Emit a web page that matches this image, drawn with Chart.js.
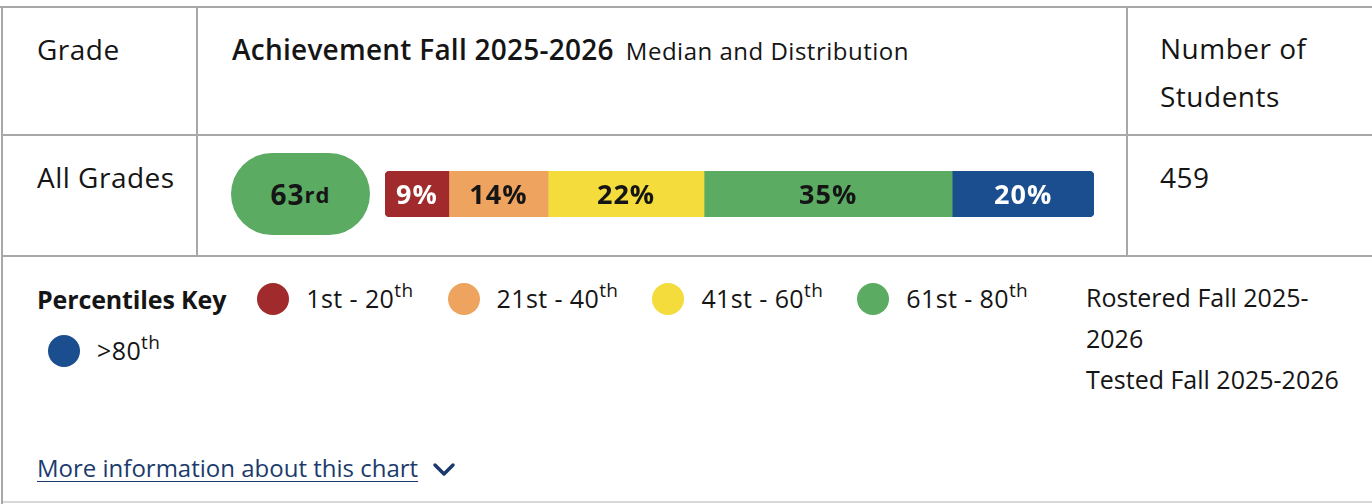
<!DOCTYPE html>
<html>
<head>
<meta charset="utf-8">
<script src="https://cdn.jsdelivr.net/npm/chart.js@4"></script>
<style>
  html, body { margin: 0; padding: 0; background: #fff; }
  body { width: 1372px; height: 504px; position: relative; overflow: hidden;
         font-family: "Open Sans", "Noto Sans", sans-serif; color: #151515; }
  .hl { position: absolute; height: 0; border-top: 2px solid #a8a8a8; }
  .vl { position: absolute; width: 0; border-left: 2px solid #a8a8a8; }
  .t  { position: absolute; white-space: nowrap; }
  .head { font-size: 28px; line-height: 28px; letter-spacing: 0.5px; }
  .sub { font-size: 24px; font-weight: 400; margin-left: 12px; letter-spacing: 0.5px; }
  #pill { position: absolute; left: 231px; top: 153px; width: 139px; height: 82px;
          border-radius: 41px; display: flex; align-items: center; justify-content: center;
          font-weight: 700; font-size: 28px; letter-spacing: 1px; color: #151515; }
  #pill small { font-size: 22px; font-weight: 700; }
  #barWrap { position: absolute; left: 385px; top: 171px; width: 709px; height: 46px; }
  #legend { position: absolute; left: 37px; top: 279px; width: 1040px;
            display: flex; flex-wrap: wrap; column-gap: 20px; row-gap: 12px; }
  #legend .key { font-weight: 700; font-size: 25px; line-height: 40px; letter-spacing: -0.13px; }
  #legend .item { display: flex; align-items: center; height: 40px; padding-left: 11px; padding-right: 3px;
                  font-size: 25px; line-height: 40px; letter-spacing: 0.4px; }
  #legend .dot { width: 32px; height: 32px; border-radius: 50%; margin-right: 17px; }
  #legend sup { font-size: 19px; vertical-align: 0; position: relative; top: -11px; }
  #roster { position: absolute; left: 1086px; top: 277px; width: 265px; font-size: 25px; line-height: 41px; }
  #more { position: absolute; left: 37px; top: 456px; font-size: 24px; line-height: 24px;
          color: #1c3b6c; text-decoration: underline; text-underline-offset: 4px; text-decoration-thickness: 1px; }
  #chev { position: absolute; left: 432px; top: 461px; }
</style>
</head>
<body>
<div class="hl" style="left:0;top:6px;width:1372px"></div>
<div class="hl" style="left:2px;top:134px;width:1370px"></div>
<div class="hl" style="left:2px;top:255px;width:1370px"></div>
<div class="hl" style="left:2px;top:501px;width:1370px;border-top-color:#d8d8d8"></div>
<div class="vl" style="left:1px;top:6px;height:498px"></div>
<div class="vl" style="left:196px;top:6px;height:250px"></div>
<div class="vl" style="left:1126px;top:6px;height:250px"></div>

<div class="t head" style="left:37px;top:35px">Grade</div>
<div class="t head" style="left:232px;top:35px;font-weight:600;letter-spacing:0.25px">Achievement Fall 2025-2026<span class="sub">Median and Distribution</span></div>
<div class="t head" style="left:1160px;top:24px;line-height:48px">Number of<br>Students</div>
<div class="t head" id="gradeCell" style="left:37px;top:163px"></div>
<div class="t head" id="countCell" style="left:1160px;top:163px"></div>

<div id="pill"></div>
<div id="barWrap"><canvas id="distChart" width="709" height="46"></canvas></div>

<div id="legend"></div>
<div id="roster">Rostered Fall 2025-2026<br>Tested Fall 2025-2026</div>

<div id="more">More information about this chart</div>
<svg id="chev" width="24" height="18" viewBox="0 0 24 18">
  <polyline points="3,4 12,13 21,4" fill="none" stroke="#1c3b6c" stroke-width="3.5" stroke-linecap="round" stroke-linejoin="round"/>
</svg>

<script>
// Dados do gráfico
const gradeLabel = 'All Grades';
const studentCount = 459;
const medianPercentile = 63;
const bucketLabels = ['1st - 20', '21st - 40', '41st - 60', '61st - 80', '>80'];
const bucketUpper = [20, 40, 60, 80, 100];
const bucketShares = [9, 14, 22, 35, 20];

// Cores por faixa
const bucketColors = ['#a02a2c', '#eea35e', '#f3dc3c', '#5bab62', '#1a4e8f'];
const labelColors = ['#ffffff', '#151515', '#151515', '#151515', '#ffffff'];

function ordinal(n) {
    const r = n % 100;
    if (r >= 11 && r <= 13) return 'th';
    return ({ 1: 'st', 2: 'nd', 3: 'rd' })[n % 10] || 'th';
}

document.getElementById('gradeCell').textContent = gradeLabel;
document.getElementById('countCell').textContent = studentCount;

// Mediana (pílula colorida pela faixa)
const pill = document.getElementById('pill');
const medianBucket = bucketUpper.findIndex(u => medianPercentile <= u);
pill.style.background = bucketColors[medianBucket];
pill.innerHTML = medianPercentile + '<small>' + ordinal(medianPercentile) + '</small>';

// Legenda
const legend = document.getElementById('legend');
legend.innerHTML = '<div class="key">Percentiles Key</div>' + bucketLabels.map((l, i) =>
    `<div class="item"><div class="dot" style="background:${bucketColors[i]}"></div><span>${l}<sup>th</sup></span></div>`
).join('');

// Rótulos dentro das barras
const pluginRotulos = {
    id: 'barLabels',
    afterDatasetsDraw(chart) {
        const { ctx } = chart;
        ctx.save();
        ctx.font = 'bold 27px "Open Sans", sans-serif';
        ctx.letterSpacing = '1px';
        ctx.textAlign = 'center';
        ctx.textBaseline = 'middle';
        chart.data.datasets.forEach((ds, i) => {
            const bar = chart.getDatasetMeta(i).data[0];
            ctx.fillStyle = labelColors[i];
            ctx.fillText(ds.data[0] + '%', (bar.x + bar.base) / 2, bar.y + 2);
        });
        ctx.restore();
    }
};

const last = bucketShares.length - 1;
new Chart(document.getElementById('distChart'), {
    type: 'bar',
    data: {
        labels: [gradeLabel],
        datasets: bucketShares.map((v, i) => ({
            label: bucketLabels[i],
            data: [v],
            backgroundColor: bucketColors[i],
            borderWidth: 0,
            borderSkipped: false,
            borderRadius: {
                topLeft: i === 0 ? 5 : 0, bottomLeft: i === 0 ? 5 : 0,
                topRight: i === last ? 5 : 0, bottomRight: i === last ? 5 : 0
            },
            barPercentage: 1,
            categoryPercentage: 1
        }))
    },
    options: {
        indexAxis: 'y',
        responsive: false,
        animation: false,
        layout: { padding: 0 },
        scales: {
            x: { stacked: true, min: 0, max: 100, display: false },
            y: { stacked: true, display: false }
        },
        plugins: { legend: { display: false }, tooltip: { enabled: false } }
    },
    plugins: [pluginRotulos]
});
</script>
</body>
</html>
